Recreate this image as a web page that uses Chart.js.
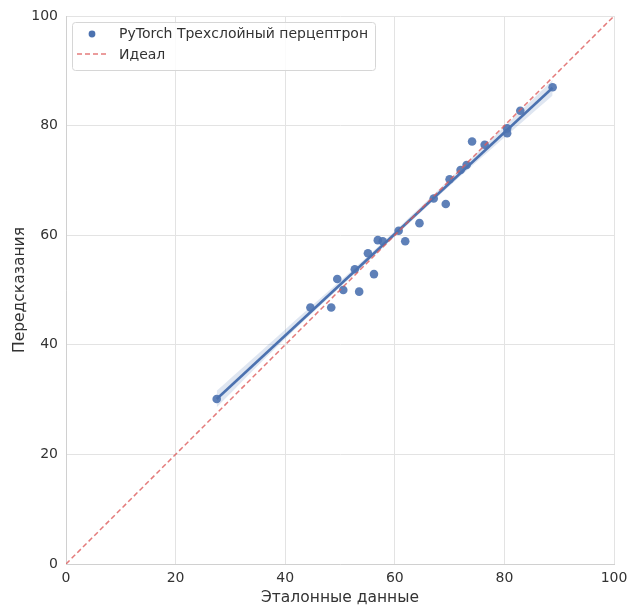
<!DOCTYPE html>
<html>
<head>
<meta charset="utf-8">
<script src="https://cdn.jsdelivr.net/npm/chart.js@4"></script>
<style>
  html, body { margin: 0; padding: 0; background: #fff; }
  #wrap { width: 630px; height: 608px; }
</style>
</head>
<body>
<div id="wrap"><canvas id="grafik" width="630" height="608"></canvas></div>
<script>
// Эталонные значения (ось X) и предсказания (ось Y)
const etalon = [27.5, 44.6, 48.4, 49.5, 50.6, 53.5, 52.7, 55.1, 56.2, 56.9, 57.8, 60.7, 61.9, 64.5,
                67.1, 69.3, 70.0, 72.0, 73.1, 74.1, 76.4, 80.5, 80.5, 82.9, 88.8];
const predskazaniya = [30.1, 46.8, 46.8, 52.0, 50.0, 49.7, 53.8, 56.7, 52.9, 59.1, 58.9, 60.8, 58.9, 62.2,
                       66.7, 65.7, 70.2, 71.9, 72.8, 77.1, 76.5, 79.5, 78.6, 82.7, 87.0];

// Линия регрессии и доверительный интервал
const liniyaX = [27.5, 88.8];
const liniyaY = [30.1, 86.9];
const polosaX = [27.5, 40, 55, 70, 88.8];
const polosaNiz = [28.6, 41.1, 55.1, 69.0, 85.5];
const polosaVerh = [31.6, 42.8, 56.1, 70.2, 88.3];

// Идеальная линия
const idealX = [0, 100];
const idealY = [0, 100];

const xTicks = [0, 20, 40, 60, 80, 100];
const yTicks = [0, 20, 40, 60, 80, 100];

const SINIY = '#4c72b0';
const KRASNIY = 'rgba(221, 90, 90, 0.8)';
const SHRIFT = "'DejaVu Sans', sans-serif";

function toPoints(xs, ys) {
    return xs.map((x, i) => ({ x: x, y: ys[i] }));
}

// Легенда внутри области графика
const legendaPlugin = {
    id: 'legenda',
    afterDraw(chart) {
        const ctx = chart.ctx;
        const x0 = 72, y0 = 22, w = 303, h = 48;
        ctx.save();
        ctx.fillStyle = 'rgba(255,255,255,0.85)';
        ctx.strokeStyle = '#d6d6d6';
        ctx.lineWidth = 1;
        ctx.beginPath();
        ctx.roundRect(x0 + 0.5, y0 + 0.5, w, h, 3);
        ctx.fill();
        ctx.stroke();

        ctx.fillStyle = SINIY;
        ctx.beginPath();
        ctx.arc(92, 34, 3.4, 0, Math.PI * 2);
        ctx.fill();

        ctx.strokeStyle = KRASNIY;
        ctx.lineWidth = 1.5;
        ctx.setLineDash([5, 3]);
        ctx.beginPath();
        ctx.moveTo(77, 54);
        ctx.lineTo(107, 54);
        ctx.stroke();
        ctx.setLineDash([]);

        ctx.fillStyle = '#333';
        ctx.font = '14px ' + SHRIFT;
        ctx.textBaseline = 'middle';
        ctx.fillText('PyTorch Трехслойный перцептрон', 119, 34);
        ctx.fillText('Идеал', 119, 55);
        ctx.restore();
    }
};

new Chart(document.getElementById('grafik'), {
    type: 'scatter',
    data: {
        datasets: [
            {
                type: 'line',
                label: 'Идеал',
                data: toPoints(idealX, idealY),
                borderColor: KRASNIY,
                borderWidth: 1.5,
                borderDash: [5, 3],
                pointRadius: 0,
                fill: false,
                order: 0
            },
            {
                type: 'line',
                label: 'регрессия',
                data: toPoints(liniyaX, liniyaY),
                borderColor: SINIY,
                borderWidth: 2.6,
                pointRadius: 0,
                fill: false,
                order: 1
            },
            {
                label: 'PyTorch Трехслойный перцептрон',
                data: toPoints(etalon, predskazaniya),
                backgroundColor: 'rgba(76, 114, 176, 0.9)',
                borderWidth: 0,
                pointRadius: 4.3,
                order: 2
            },
            {
                type: 'line',
                label: 'низ',
                data: toPoints(polosaX, polosaNiz),
                borderWidth: 0,
                borderColor: 'rgba(0,0,0,0)',
                pointRadius: 0,
                tension: 0.3,
                fill: false,
                order: 4
            },
            {
                type: 'line',
                label: 'верх',
                data: toPoints(polosaX, polosaVerh),
                borderWidth: 0,
                borderColor: 'rgba(0,0,0,0)',
                backgroundColor: 'rgba(76, 114, 176, 0.18)',
                pointRadius: 0,
                tension: 0.3,
                fill: '-1',
                order: 3
            }
        ]
    },
    options: {
        responsive: false,
        animation: false,
        layout: { padding: { left: 0, right: 16, top: 16, bottom: 0 } },
        plugins: {
            legend: { display: false },
            tooltip: { enabled: false }
        },
        scales: {
            x: {
                type: 'linear',
                min: 0,
                max: 100,
                afterBuildTicks: s => { s.ticks = xTicks.map(v => ({ value: v })); },
                afterFit: s => { s.height = 44; s.paddingLeft = 0; s.paddingRight = 0; },
                ticks: { color: '#333', font: { family: SHRIFT, size: 14 }, padding: 6 },
                grid: { color: '#e3e3e3', lineWidth: 1, drawTicks: false },
                border: { color: '#d0d0d0', width: 1 },
                title: {
                    display: true,
                    text: 'Эталонные данные',
                    color: '#333',
                    font: { family: SHRIFT, size: 15.5 },
                    padding: { top: 0, bottom: 1 }
                }
            },
            y: {
                type: 'linear',
                min: 0,
                max: 100,
                afterBuildTicks: s => { s.ticks = yTicks.map(v => ({ value: v })); },
                afterFit: s => { s.width = 66; s.paddingTop = 0; s.paddingBottom = 0; },
                ticks: { color: '#333', font: { family: SHRIFT, size: 14 }, padding: 8 },
                grid: { color: '#e3e3e3', lineWidth: 1, drawTicks: false },
                border: { color: '#d0d0d0', width: 1 },
                title: {
                    display: true,
                    text: 'Передсказания',
                    color: '#333',
                    font: { family: SHRIFT, size: 15.5 },
                    padding: { top: 11, bottom: 0 }
                }
            }
        }
    },
    plugins: [legendaPlugin]
});
</script>
</body>
</html>
